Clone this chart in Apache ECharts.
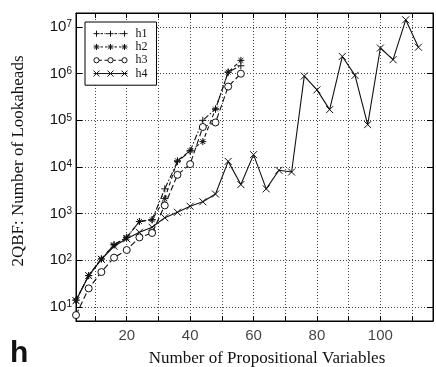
<!DOCTYPE html>
<html>
<head>
<meta charset="utf-8">
<script src="https://cdn.jsdelivr.net/npm/echarts@6/dist/echarts.min.js"></script>
<style>
  html, body { margin: 0; padding: 0; background: #fff; }
  #chart { width: 436px; height: 367px; }
</style>
</head>
<body>
<div id="chart"></div>
<script>
// number of propositional variables
const varsShort = [4, 8, 12, 16, 20, 24, 28, 32, 36, 40, 44, 48, 52, 56]
const varsLong = [4, 8, 12, 16, 20, 24, 28, 32, 36, 40, 44, 48, 52, 56, 60, 64, 68, 72, 76, 80, 84, 88, 92, 96, 100, 104, 108, 112]

// lookaheads per heuristic
const h1 = [14, 47, 107, 215, 310, 680, 740, 3400, 13000, 22000, 100000, 175000, 1080000, 1480000]
const h2 = [14, 47, 107, 215, 310, 680, 740, 2100, 13600, 22400, 35000, 175000, 1080000, 1930000]
const h3 = [6.7, 25, 56, 114, 166, 309, 385, 1500, 6800, 11500, 72000, 90000, 530000, 1000000]
const h4 = [13.6, 47, 105, 200, 290, 398, 510, 820, 1070, 1440, 1800, 2630, 13200, 4200,
  18400, 3400, 8500, 7800, 890000, 450000, 170000, 2340000, 920000, 81000,
  3550000, 2000000, 14300000, 3700000]

// axis ranges, tick labels and tick marks
const xMin = 4
const xMax = 116.6
const yMin = 5
const yMax = 2e7
const xTicks = [20, 40, 60, 80, 100]
const xTickMarks = [10, 20, 30, 40, 50, 60, 70, 80, 90, 100, 110]

const sans = 'Liberation Sans'
const serif = 'Liberation Serif'

// marker shapes
const plusPath = 'path://M5 0L5 10M0 5L10 5'
const starPath = 'path://M5 0L5 10M0 5L10 5M1.5 1.5L8.5 8.5M8.5 1.5L1.5 8.5'
const crossPath = 'path://M0 0L10 10M10 0L0 10'

// legend icons: three markers joined by the line style, 34 x 6 box
const iconX = [3, 17, 31]
function plusAt(c) { return 'M' + c + ' 0L' + c + ' 6M' + (c - 3) + ' 3L' + (c + 3) + ' 3' }
function starAt(c) {
  return plusAt(c) + 'M' + (c - 2.2) + ' 0.8L' + (c + 2.2) + ' 5.2M' + (c + 2.2) + ' 0.8L' + (c - 2.2) + ' 5.2'
}
function circleAt(c) { return 'M' + (c + 2.6) + ' 3A2.6 2.6 0 1 1 ' + (c - 2.6) + ' 3A2.6 2.6 0 1 1 ' + (c + 2.6) + ' 3M' + c + ' 0L' + c + ' 0M' + c + ' 6L' + c + ' 6' }
function crossAt(c) { return 'M' + (c - 3) + ' 0L' + (c + 3) + ' 6M' + (c + 3) + ' 0L' + (c - 3) + ' 6' }

const legendIcons = {
  h1: 'path://' + iconX.map(plusAt).join('') + 'M7 3L9.5 3M10.5 3L11 3M12 3L14 3M21 3L23.5 3M24.5 3L25 3M26 3L28 3',
  h2: 'path://' + iconX.map(starAt).join('') + 'M7 3L9.5 3M11.5 3L13.5 3M21 3L23.5 3M25.5 3L27.5 3',
  h3: 'path://' + iconX.map(circleAt).join('') + 'M5.6 3L8.5 3M11 3L14.4 3M19.6 3L22.5 3M25 3L28.4 3',
  h4: 'path://' + iconX.map(crossAt).join('') + 'M0 3L34 3'
}

function pairs(xs, ys) {
  return ys.map((v, i) => [xs[i], v])
}

function makeSeries(name, xs, ys, symbol, dash) {
  return {
    name: name,
    type: 'line',
    data: pairs(xs, ys),
    symbol: symbol,
    symbolSize: 7,
    showAllSymbol: true,
    itemStyle: {color: '#fff', borderColor: '#111', borderWidth: 1},
    lineStyle: {color: '#111', width: 1.1, type: dash},
    emphasis: {disabled: true},
    z: 3
  }
}

let chart = echarts.init(document.getElementById('chart'))

const option = {
  animation: false,
  backgroundColor: '#fff',
  grid: {
    left: 76, right: 3, top: 13, bottom: 46,
    show: true, borderColor: '#000', borderWidth: 1, backgroundColor: 'transparent'
  },
  legend: {
    left: 85, top: 22,
    orient: 'vertical',
    backgroundColor: '#fff',
    borderColor: '#000',
    borderWidth: 1,
    padding: [5, 9, 5, 8],
    itemWidth: 34,
    itemHeight: 6,
    itemGap: 0,
    itemStyle: {color: '#fff', borderColor: '#111', borderWidth: 1},
    textStyle: {fontFamily: serif, fontSize: 12, color: '#111', lineHeight: 13.3, padding: [0, 0, 0, 3]},
    data: ['h1', 'h2', 'h3', 'h4'].map(n => ({name: n, icon: legendIcons[n]}))
  },
  xAxis: [
    {
      type: 'value',
      min: xMin, max: xMax,
      splitNumber: 6,
      axisLine: {show: true, lineStyle: {color: '#000'}},
      axisTick: {inside: true, length: 5, customValues: xTickMarks, lineStyle: {color: '#000'}},
      // the tick labels are drawn by the 'xlabels' series below
      axisLabel: {show: false},
      splitLine: {show: true, lineStyle: {color: '#444', type: [1, 2], width: 1}}
    },
    {
      type: 'value', position: 'top',
      min: xMin, max: xMax, splitNumber: 6,
      axisLine: {show: true, lineStyle: {color: '#000'}},
      axisTick: {inside: true, length: 5, customValues: xTickMarks, lineStyle: {color: '#000'}},
      axisLabel: {show: false},
      splitLine: {show: false}
    }
  ],
  yAxis: [
    {
      type: 'log',
      logBase: 10,
      min: yMin, max: yMax,
      splitNumber: 7,
      axisLine: {show: true, lineStyle: {color: '#000'}},
      axisTick: {inside: true, length: 6, lineStyle: {color: '#000'}},
      axisLabel: {
        margin: 4,
        formatter: function (v) {
          const e = Math.log10(v)
          if (Math.abs(e - Math.round(e)) > 1e-6) return ''
          return '{a|10}{b|' + Math.round(e) + '}'
        },
        rich: {
          a: {fontFamily: sans, fontSize: 15, color: '#111'},
          b: {fontFamily: sans, fontSize: 10, color: '#111', verticalAlign: 'top'}
        }
      },
      splitLine: {show: true, lineStyle: {color: '#444', type: [1, 2], width: 1}}
    },
    {
      type: 'log', position: 'right',
      logBase: 10, min: yMin, max: yMax, splitNumber: 7,
      axisLine: {show: true, lineStyle: {color: '#000'}},
      axisTick: {inside: true, length: 6, lineStyle: {color: '#000'}},
      axisLabel: {show: false},
      splitLine: {show: false}
    }
  ],
  graphic: [
    {
      type: 'text', x: 19, y: 161, rotation: Math.PI / 2,
      style: {
        text: '2QBF: Number of Lookaheads', x: 0, y: 0,
        align: 'center', verticalAlign: 'middle',
        font: '17px "Liberation Serif"', fill: '#111'
      }
    },
    {
      type: 'text', x: 267, y: 359,
      style: {
        text: 'Number of Propositional Variables', x: 0, y: 0,
        align: 'center', verticalAlign: 'middle',
        font: '17px "Liberation Serif"', fill: '#111'
      }
    },
    {
      type: 'text', x: 10, y: 354,
      style: {
        text: 'h', x: 0, y: 0,
        align: 'left', verticalAlign: 'middle',
        font: 'bold 30px "Liberation Sans"', fill: '#111'
      }
    }
  ],
  series: [
    makeSeries('h1', varsShort, h1, plusPath, [6, 2, 1.5, 2]),
    makeSeries('h2', varsShort, h2, starPath, [4, 3]),
    makeSeries('h3', varsShort, h3, 'circle', [6, 3]),
    makeSeries('h4', varsLong, h4, crossPath, 'solid'),
    {
      // x tick labels, placed on the bottom edge through the axes' scales
      name: 'xlabels',
      type: 'scatter',
      data: xTicks.map(v => [v, yMin]),
      symbolSize: 0,
      silent: true,
      clip: false,
      label: {
        show: true,
        position: 'bottom',
        distance: 7,
        fontFamily: sans,
        fontSize: 15,
        color: '#111',
        formatter: p => String(p.value[0])
      },
      labelLayout: {hideOverlap: false},
      z: 1
    }
  ]
}

chart.setOption(option)
</script>
</body>
</html>
